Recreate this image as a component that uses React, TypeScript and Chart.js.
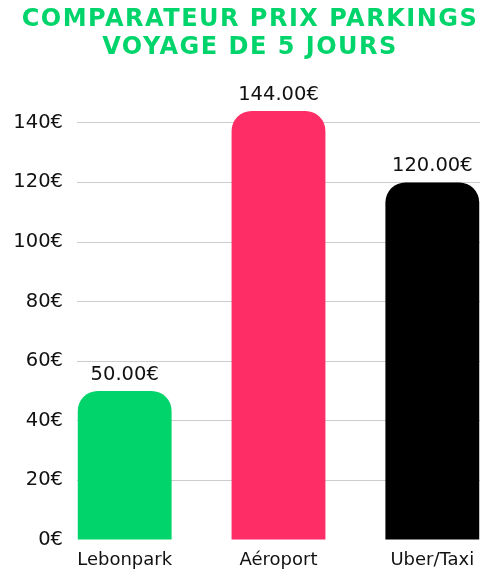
import { useEffect, useRef } from "react"
import { Chart, registerables } from "chart.js"

Chart.register(...registerables)

const titleLines = ["COMPARATEUR PRIX PARKINGS", "VOYAGE DE 5 JOURS"]
const categories = ["Lebonpark", "Aéroport", "Uber/Taxi"]
const prices = [50, 144, 120]
const barColors = ["#00d46a", "#ff2d66", "#000000"]
const yTicks = [0, 20, 40, 60, 80, 100, 120, 140]

const FONT = "'DejaVu Sans', sans-serif"
const TEXT = "#111111"

const valueLabels = {
  id: "valueLabels",
  afterDatasetsDraw(chart: Chart) {
    const ctx = chart.ctx
    const meta = chart.getDatasetMeta(0)
    ctx.save()
    ctx.font = `19.5px ${FONT}`
    ctx.fillStyle = TEXT
    ctx.textAlign = "center"
    ctx.textBaseline = "middle"
    meta.data.forEach((el: any, i: number) => {
      ctx.fillText(`${prices[i].toFixed(2)}€`, el.x, el.y - 16)
    })
    ctx.restore()
  },
}

export default function App() {
  const canvasRef = useRef<HTMLCanvasElement>(null)
  const chartRef = useRef<Chart | null>(null)

  useEffect(() => {
    document.body.style.margin = "0"
    const canvas = canvasRef.current
    if (!canvas) return

    chartRef.current = new Chart(canvas, {
      type: "bar",
      data: {
        datasets: [
          {
            data: prices.map((y, i) => ({ x: i, y })),
            backgroundColor: barColors,
            borderRadius: { topLeft: 20, topRight: 20, bottomLeft: 0, bottomRight: 0 },
            borderSkipped: false,
            categoryPercentage: 1,
            barPercentage: 0.61,
          },
        ],
      },
      options: {
        responsive: true,
        maintainAspectRatio: false,
        animation: false,
        layout: { padding: { top: 93, right: 20, bottom: 0, left: 0 } },
        plugins: {
          legend: { display: false },
          tooltip: { enabled: false },
        },
        scales: {
          x: {
            type: "linear",
            min: -0.31,
            max: 2.31,
            offset: false,
            grid: { display: false, offset: false },
            border: { display: false },
            afterBuildTicks: (scale: any) => {
              scale.ticks = categories.map((_, i) => ({ value: i }))
            },
            afterFit: (scale: any) => {
              scale.height = 31
            },
            ticks: {
              padding: 2,
              color: TEXT,
              font: { family: FONT, size: 18 },
              autoSkip: false,
              maxRotation: 0,
              callback: (v: any) => categories[v] ?? "",
            },
          },
          y: {
            min: 0,
            max: 150,
            grid: {
              color: (c: any) => (c.tick && c.tick.value === 0 ? "rgba(0,0,0,0)" : "#cccccc"),
              lineWidth: 1,
              drawTicks: false,
            },
            border: { display: false },
            afterBuildTicks: (scale: any) => {
              scale.ticks = yTicks.map((value) => ({ value }))
            },
            afterFit: (scale: any) => {
              scale.width = 77
            },
            ticks: {
              padding: 14,
              color: TEXT,
              font: { family: FONT, size: 19.5 },
              callback: (v: any) => `${v}€`,
            },
          },
        },
      },
      plugins: [valueLabels],
    })

    return () => {
      chartRef.current?.destroy()
      chartRef.current = null
    }
  }, [])

  return (
    <div style={{ position: "relative", width: 500, height: 571, background: "#fff" }}>
      <div
        style={{
          position: "absolute",
          top: 4,
          left: 0,
          width: 500,
          textAlign: "center",
          fontFamily: "'DejaVu Sans', sans-serif",
          fontWeight: 900,
          fontSize: 24,
          lineHeight: "28px",
          letterSpacing: 1.5,
          color: "#00d46a",
        }}
      >
        {titleLines.map((t) => (
          <div key={t}>{t}</div>
        ))}
      </div>
      <canvas ref={canvasRef} />
    </div>
  )
}
